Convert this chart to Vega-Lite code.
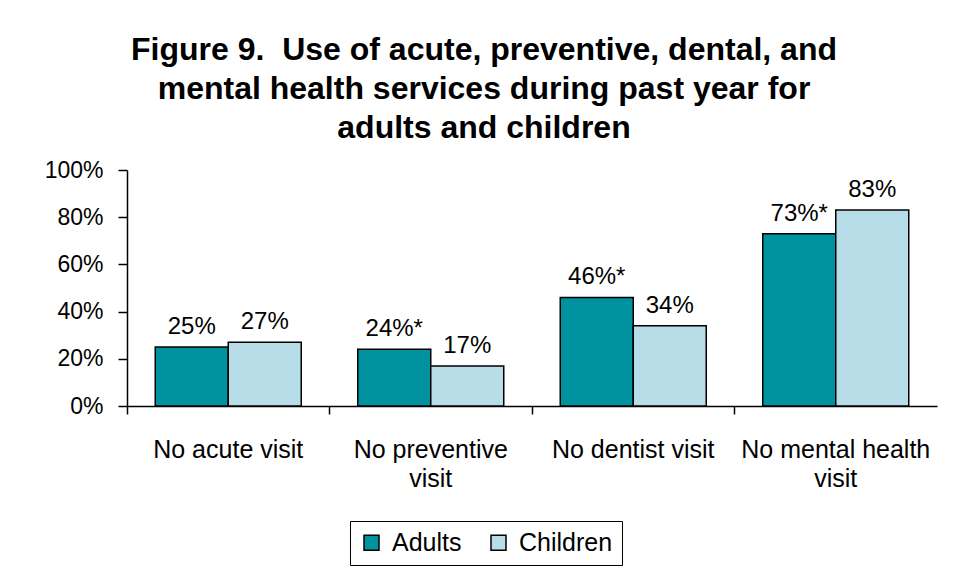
{
  "$schema": "https://vega.github.io/schema/vega-lite/v6.json",
  "autosize": "none",
  "width": 810,
  "height": 236,
  "padding": {"left": 127, "top": 170, "right": 19, "bottom": 171},
  "background": "white",
  "title": {
    "text": ["Figure 9.\u00a0 Use of acute, preventive, dental, and", "mental health services during past year for", "adults and children"],
    "font": "Liberation Sans",
    "fontSize": 32,
    "fontWeight": "bold",
    "color": "black",
    "lineHeight": 39,
    "anchor": "middle",
    "dx": -48,
    "offset": 14
  },
  "data": {
    "values": [
      {"category": "No acute visit", "group": "Adults", "value": 0.25, "label": "25%"},
      {"category": "No acute visit", "group": "Children", "value": 0.27, "label": "27%"},
      {"category": "No preventive visit", "group": "Adults", "value": 0.24, "label": "24%*"},
      {"category": "No preventive visit", "group": "Children", "value": 0.17, "label": "17%"},
      {"category": "No dentist visit", "group": "Adults", "value": 0.46, "label": "46%*"},
      {"category": "No dentist visit", "group": "Children", "value": 0.34, "label": "34%"},
      {"category": "No mental health visit", "group": "Adults", "value": 0.73, "label": "73%*"},
      {"category": "No mental health visit", "group": "Children", "value": 0.83, "label": "83%"}
    ]
  },
  "encoding": {
    "x": {
      "field": "category",
      "type": "nominal",
      "sort": null,
      "scale": {"paddingInner": 0, "paddingOuter": 0},
      "axis": {
        "title": null,
        "labelAngle": 0,
        "bandPosition": 0,
        "tickSize": 8,
        "labelPadding": 23,
        "labelFontSize": 25,
        "labelLineHeight": 29,
        "labelLimit": 0,
        "labelBaseline": "top",
        "labelExpr": "datum.value == 'No preventive visit' ? ['No preventive', 'visit'] : datum.value == 'No mental health visit' ? ['No mental health', 'visit'] : datum.value"
      }
    },
    "xOffset": {
      "field": "group",
      "type": "nominal",
      "scale": {"paddingInner": 0, "paddingOuter": 0.387}
    },
    "y": {
      "field": "value",
      "type": "quantitative",
      "scale": {"domain": [0, 1]},
      "axis": {
        "title": null,
        "values": [0, 0.2, 0.4, 0.6, 0.8, 1],
        "format": "%",
        "grid": false,
        "tickSize": 9,
        "labelPadding": 15,
        "labelFontSize": 23
      }
    }
  },
  "layer": [
    {
      "mark": {"type": "bar", "stroke": "black", "strokeWidth": 1.5},
      "encoding": {
        "color": {
          "field": "group",
          "type": "nominal",
          "scale": {"domain": ["Adults", "Children"], "range": ["#00929E", "#B7DDE8"]},
          "legend": {
            "title": null,
            "orient": "none",
            "legendX": 223,
            "legendY": 351,
            "direction": "horizontal",
            "strokeColor": "black",
            "fillColor": "white",
            "padding": 9,
            "symbolType": "square",
            "symbolSize": 225,
            "symbolStrokeColor": "black",
            "symbolStrokeWidth": 1.5,
            "labelFontSize": 25,
            "labelOffset": 8,
            "columnPadding": 24
          }
        }
      }
    },
    {
      "mark": {"type": "text", "baseline": "bottom", "dy": -8, "fontSize": 24, "color": "black", "font": "Liberation Sans"},
      "encoding": {"text": {"field": "label"}}
    }
  ],
  "config": {
    "font": "Liberation Sans",
    "view": {"stroke": null},
    "axis": {
      "domainColor": "black",
      "domainWidth": 1.5,
      "tickColor": "black",
      "tickWidth": 1.5,
      "labelColor": "black",
      "labelFont": "Liberation Sans"
    },
    "legend": {"labelColor": "black", "labelFont": "Liberation Sans"}
  }
}
